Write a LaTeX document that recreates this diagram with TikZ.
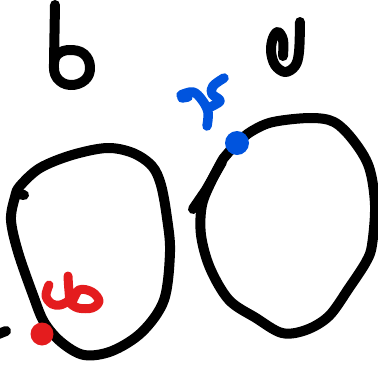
\documentclass[tikz,border=0pt]{standalone}
\definecolor{penblue}{RGB}{0,84,222}
\definecolor{penred}{RGB}{228,28,30}
\tikzset{
  ink/.style={line width=10pt, line cap=round, line join=round, black},
  bluepen/.style={line width=9.5pt, line cap=round, line join=round, penblue},
  redpen/.style={line width=9pt, line cap=round, line join=round, penred},
}
\begin{document}
\begin{tikzpicture}[x=1pt,y=-1pt]
\useasboundingbox (0,0) rectangle (378,370);
% letter b
\draw[ink] (55,5) -- (54,62);
\draw[ink] plot[smooth cycle, tension=0.7] coordinates {(54,64) (58,54) (70,50) (84,54) (90,67) (85,80) (70,85) (57,78)};
% letter e
\draw[ink] plot[smooth, tension=0.6] coordinates {(283,56) (283,40) (278,32) (273,38) (271,51) (275,65) (285,72) (295,66) (299,52) (300,22)};
% left loop
\draw[ink] plot[smooth cycle, tension=0.55] coordinates {(20,186) (40,168) (72,155) (107,148) (133,153) (152,166) (161,185) (167,218) (170,252) (164,300) (142,332) (112,351) (84,355) (61,342) (44,322) (33,295) (18,252) (11,220) (15,197)};
\draw[ink] (19,194) -- (24,195);
% black stub at left edge
\draw[ink] (-4,335) -- (6,331);
% right loop
\draw[ink] plot[smooth, tension=0.55] coordinates {(223,159) (237,143) (252,131) (273,122) (310,118) (334,122) (353,140) (369,167) (375,205) (372,245) (366,262) (349,288) (329,316) (306,330) (282,333) (256,318) (229,300) (210,268) (201,235) (202,205) (212,180) (223,159)};
\draw[ink] (193,209) -- (206,190) -- (222,162);
% blue mark
\draw[bluepen] plot[smooth, tension=0.6] coordinates {(181,95) (193,92) (202,100) (208,112) (207,126)};
\draw[bluepen] (182,98) -- (188,97);
\draw[bluepen] plot[smooth, tension=0.6] coordinates {(224,78) (213,86) (212,94) (220,101) (208,108)};
\fill[penblue] (237,143) circle (12);
% red mark
\draw[redpen] plot[smooth, tension=0.6] coordinates {(49,285) (46,296) (52,304) (60,305) (67,302)};
\draw[redpen] plot[smooth, tension=0.6] coordinates {(68,276) (69,291) (71,303) (79,290) (92,292) (99,301) (92,308) (78,308) (70,303)};
\fill[penred] (42,334) circle (11.5);
\end{tikzpicture}
\end{document}
